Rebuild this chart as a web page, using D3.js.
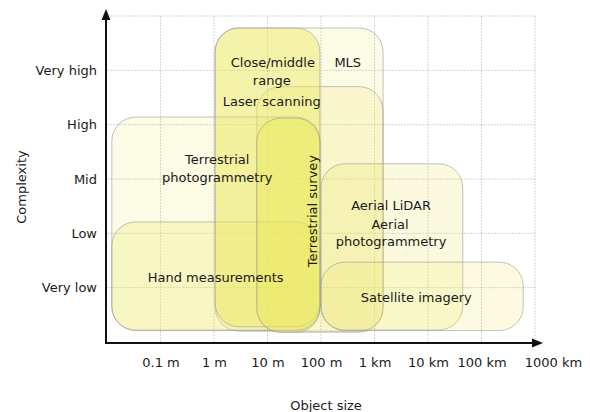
<!DOCTYPE html>
<html>
<head>
<meta charset="utf-8">
<script src="https://cdn.jsdelivr.net/npm/d3@7/dist/d3.min.js"></script>
<style>
  body { margin: 0; background: #fff; }
  svg { display: block; font-family: "DejaVu Sans", Verdana, sans-serif; }
  .grid line { stroke: #d4d4d4; stroke-width: 1; stroke-dasharray: 2,1; }
  .box { stroke: #9a9a9a; stroke-opacity: 0.6; stroke-width: 1; }
  .lbl { font-size: 13px; fill: #1a1a1a; }
  .tick text { font-size: 13px; fill: #1a1a1a; font-family: "DejaVu Sans", Verdana, sans-serif; }
</style>
</head>
<body>
<svg id="chart" width="590" height="412"></svg>
<script>
// tick labels
const sizeTicks = ["0.1 m", "1 m", "10 m", "100 m", "1 km", "10 km", "100 km", "1000 km"];
const complexityTicks = ["Very low", "Low", "Mid", "High", "Very high"];

// boxes: extent on the size axis (grid steps) and complexity axis (levels)
const boxNames = ["MLS", "Laser scanning", "Terrestrial photogrammetry", "Hand measurements",
                  "Close/middle range", "Terrestrial survey", "Aerial", "Satellite imagery"];
const boxSizeMin = [2.02, 2.80, 0.09, 0.09, 2.02, 2.80, 4.00, 4.00];
const boxSizeMax = [5.16, 5.16, 3.98, 3.98, 3.98, 3.98, 6.65, 7.78];
const boxLevelMin = [0.20, 0.18, 0.22, 0.21, 0.28, 0.18, 0.22, 0.21];
const boxLevelMax = [5.78, 4.70, 4.14, 2.21, 5.78, 4.12, 3.28, 1.47];

// text lines inside the boxes
const labelText = ["Close/middle", "range", "Laser scanning", "MLS", "Terrestrial", "photogrammetry",
                   "Terrestrial survey", "Hand measurements", "Aerial LiDAR", "Aerial",
                   "photogrammetry", "Satellite imagery"];
const labelSize = [3.10, 3.08, 3.08, 4.50, 2.06, 2.06, 3.85, 2.03, 5.31, 5.29, 5.31, 5.78];
const labelLevel = [5.15, 4.82, 4.42, 5.14, 3.35, 3.02, 2.41, 1.18, 2.52, 2.17, 1.85, 0.81];
const labelVertical = ["Terrestrial survey"];

// fill strength per box
const boxOpacity = {
  "MLS": 0.16, "Laser scanning": 0.2, "Terrestrial photogrammetry": 0.16,
  "Hand measurements": 0.25, "Close/middle range": 0.45, "Terrestrial survey": 0.45,
  "Aerial": 0.2, "Satellite imagery": 0.18
};

const svg = d3.select("#chart");
const x = d3.scaleLinear().domain([0, 8]).range([107, 535]);
const y = d3.scaleLinear().domain([0, 6]).range([342, 16]);

// grid
const grid = svg.append("g").attr("class", "grid");
grid.selectAll("line.v").data(d3.range(1, 9)).enter().append("line")
  .attr("x1", d => x(d)).attr("x2", d => x(d))
  .attr("y1", y(6)).attr("y2", y(0) + 1);
grid.selectAll("line.h").data(d3.range(1, 7)).enter().append("line")
  .attr("x1", x(0)).attr("x2", x(8))
  .attr("y1", d => y(d)).attr("y2", d => y(d));

// boxes
svg.append("g").selectAll("rect").data(boxNames).enter().append("rect")
  .attr("class", "box")
  .attr("x", (d, i) => x(boxSizeMin[i]))
  .attr("y", (d, i) => y(boxLevelMax[i]))
  .attr("width", (d, i) => x(boxSizeMax[i]) - x(boxSizeMin[i]))
  .attr("height", (d, i) => y(boxLevelMin[i]) - y(boxLevelMax[i]))
  .attr("rx", (d, i) => Math.min(24, (x(boxSizeMax[i]) - x(boxSizeMin[i])) / 2, (y(boxLevelMin[i]) - y(boxLevelMax[i])) / 2))
  .attr("fill", "#ece860")
  .attr("fill-opacity", d => boxOpacity[d]);

// labels
svg.append("g").selectAll("text").data(labelText).enter().append("text")
  .attr("class", "lbl")
  .attr("text-anchor", "middle")
  .attr("dominant-baseline", "central")
  .attr("transform", (d, i) => "translate(" + x(labelSize[i]) + "," + y(labelLevel[i]) + ")" +
        (labelVertical.includes(d) ? " rotate(-90)" : ""))
  .text(d => d);

// axes
const xAxis = d3.axisBottom(x)
  .tickValues(d3.range(1, 9))
  .tickFormat(d => sizeTicks[d - 1])
  .tickSize(0).tickPadding(15);
const gx = svg.append("g").attr("transform", "translate(0,343)").call(xAxis);
gx.select(".domain").remove();
gx.selectAll(".tick text").filter(d => d === 8).attr("dx", 18);

const yAxis = d3.axisLeft(y)
  .tickValues(d3.range(1, 6))
  .tickFormat(d => complexityTicks[d - 1])
  .tickSize(0).tickPadding(9);
const gy = svg.append("g").attr("transform", "translate(106,0)").call(yAxis);
gy.select(".domain").remove();

// axis lines with arrow heads
svg.append("line").attr("x1", 106).attr("x2", 106).attr("y1", 344).attr("y2", 18)
  .attr("stroke", "#111").attr("stroke-width", 2);
svg.append("path").attr("d", "M106,9 L110.5,20 L101.5,20 Z").attr("fill", "#111");
svg.append("line").attr("x1", 105).attr("x2", 534).attr("y1", 343).attr("y2", 343)
  .attr("stroke", "#111").attr("stroke-width", 2);
svg.append("path").attr("d", "M543,343 L532,338.5 L532,347.5 Z").attr("fill", "#111");

// axis titles
svg.append("text").attr("class", "lbl").attr("text-anchor", "middle")
  .attr("x", 326).attr("y", 410).text("Object size");
svg.append("text").attr("class", "lbl").attr("text-anchor", "middle")
  .attr("transform", "translate(26,187) rotate(-90)").text("Complexity");
</script>
</body>
</html>
